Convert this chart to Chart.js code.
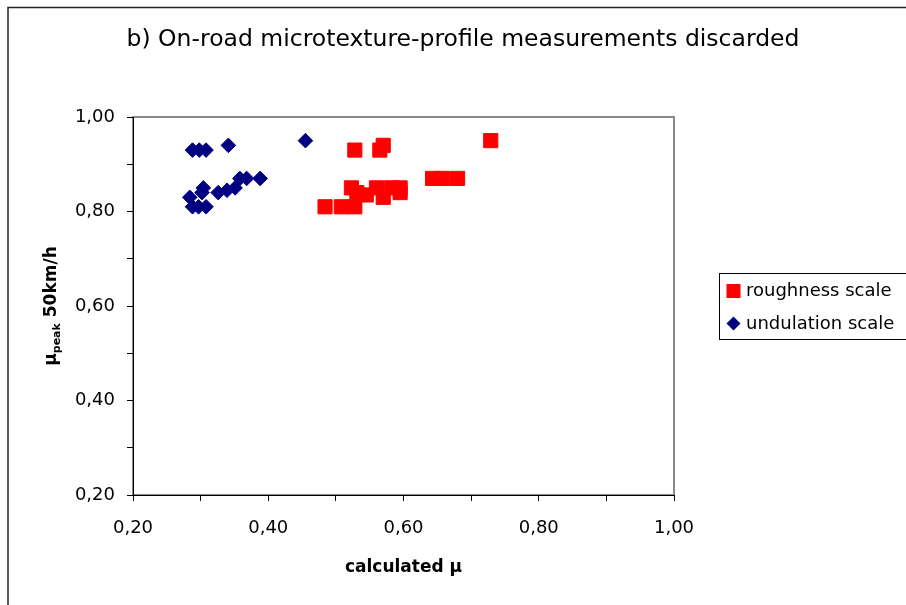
<!DOCTYPE html>
<html><head><meta charset="utf-8">
<script src="https://cdn.jsdelivr.net/npm/chart.js@4/dist/chart.umd.min.js"></script>
<style>html,body{margin:0;padding:0;background:#fff;}canvas{display:block;}</style>
</head><body>
<canvas id="c" width="906" height="605"></canvas>
<script>
const chartTitle = 'b) On-road microtexture-profile measurements discarded';
const xAxisTitle = 'calculated μ';
const yAxisTitleMain = 'μ';
const yAxisTitleSub = 'peak';
const yAxisTitleRest = ' 50km/h';
const seriesLabels = ['roughness scale', 'undulation scale'];

const roughnessX = [0.528, 0.565, 0.570, 0.729, 0.643, 0.658, 0.680, 0.484, 0.508, 0.528, 0.523, 0.531, 0.545, 0.560, 0.570, 0.582, 0.595, 0.595];
const roughnessY = [0.93, 0.93, 0.94, 0.95, 0.87, 0.87, 0.87, 0.81, 0.81, 0.81, 0.85, 0.84, 0.835, 0.85, 0.83, 0.85, 0.85, 0.84];

const undulationX = [0.288, 0.298, 0.308, 0.341, 0.455, 0.284, 0.288, 0.297, 0.308, 0.304, 0.302, 0.326, 0.339, 0.351, 0.358, 0.368, 0.388];
const undulationY = [0.93, 0.93, 0.93, 0.94, 0.95, 0.83, 0.81, 0.81, 0.81, 0.85, 0.84, 0.84, 0.845, 0.85, 0.87, 0.87, 0.87];

const xTickValues = [0.2, 0.4, 0.6, 0.8, 1.0];
const xTickLabels = ['0,20', '0,40', '0,60', '0,80', '1,00'];
const yTickValues = [0.2, 0.4, 0.6, 0.8, 1.0];
const yTickLabels = ['0,20', '0,40', '0,60', '0,80', '1,00'];

const FONT = 'DejaVu Sans';
const toPts = (xs, ys) => xs.map((x, i) => ({x: x, y: ys[i]}));
const labelFor = (vals, labels) => v => {
  const i = vals.findIndex(t => Math.abs(t - v) < 1e-6);
  return i >= 0 ? labels[i] : '';
};

const decorPlugin = {
  id: 'decor',
  beforeDraw(chart) {
    const ctx = chart.ctx, a = chart.chartArea;
    ctx.save();
    ctx.fillStyle = '#fff';
    ctx.fillRect(0, 0, chart.width, chart.height);
    ctx.strokeStyle = '#222';
    ctx.lineWidth = 1.5;
    ctx.strokeRect(8, 7.5, 1000, 1000);
    ctx.strokeStyle = '#888';
    ctx.lineWidth = 2;
    ctx.strokeRect(a.left, a.top, a.right - a.left, a.bottom - a.top);
    ctx.restore();
  },
  afterDraw(chart) {
    const ctx = chart.ctx, a = chart.chartArea;
    ctx.save();
    ctx.translate(50, (a.top + a.bottom) / 2);
    ctx.rotate(-Math.PI / 2);
    ctx.fillStyle = '#000';
    ctx.textBaseline = 'alphabetic';
    const big = 'bold 17px "' + FONT + '"', small = 'bold 11px "' + FONT + '"';
    ctx.font = big; const w1 = ctx.measureText(yAxisTitleMain).width;
    const w3 = ctx.measureText(yAxisTitleRest).width;
    ctx.font = small; const w2 = ctx.measureText(yAxisTitleSub).width;
    let x = -(w1 + w2 + w3) / 2;
    const base = 6;
    ctx.font = big; ctx.fillText(yAxisTitleMain, x, base); x += w1;
    ctx.font = small; ctx.fillText(yAxisTitleSub, x, base + 4); x += w2;
    ctx.font = big; ctx.fillText(yAxisTitleRest, x, base);
    ctx.restore();

    ctx.save();
    ctx.strokeStyle = '#000';
    ctx.lineWidth = 1;
    ctx.fillStyle = '#fff';
    ctx.fillRect(719.5, 273.5, 300, 66);
    ctx.strokeRect(719.5, 273.5, 300, 66);
    const ds = chart.data.datasets;
    ctx.font = '18px "' + FONT + '"';
    ctx.textBaseline = 'middle';
    ctx.fillStyle = ds[0].backgroundColor;
    ctx.fillRect(726.5, 284, 14, 14);
    ctx.fillStyle = '#000';
    ctx.fillText(ds[0].label, 746, 291);
    ctx.fillStyle = ds[1].backgroundColor;
    ctx.beginPath();
    ctx.moveTo(733.5, 316.5); ctx.lineTo(740.5, 323.5); ctx.lineTo(733.5, 330.5); ctx.lineTo(726.5, 323.5);
    ctx.closePath(); ctx.fill();
    ctx.fillStyle = '#000';
    ctx.fillText(ds[1].label, 746, 324);
    ctx.restore();
  }
};

new Chart(document.getElementById('c'), {
  type: 'scatter',
  data: {
    datasets: [
      { label: seriesLabels[0], data: toPts(roughnessX, roughnessY), pointStyle: 'rect', pointRadius: 10,
        backgroundColor: '#ff0000', borderColor: '#ff0000', borderWidth: 1 },
      { label: seriesLabels[1], data: toPts(undulationX, undulationY), pointStyle: 'rectRot', pointRadius: 7.3,
        backgroundColor: '#000080', borderColor: '#000080', borderWidth: 1 }
    ]
  },
  options: {
    responsive: false,
    animation: false,
    events: [],
    layout: { padding: { left: 20, top: 0, right: 0, bottom: 0 } },
    plugins: {
      legend: { display: false },
      tooltip: { enabled: false },
      title: {
        display: true, text: chartTitle, color: '#000',
        font: { family: FONT, size: 23.5, weight: 'normal', lineHeight: 1.2 },
        padding: { top: 25.9, bottom: 62.9 }
      }
    },
    scales: {
      x: {
        type: 'linear', min: 0.2, max: 1.0,
        afterFit(s) { s.height = 110; s.paddingRight = 232; },
        ticks: { stepSize: 0.1, autoSkip: false, maxRotation: 0, padding: 17, color: '#000',
          font: { family: FONT, size: 18 }, callback: labelFor(xTickValues, xTickLabels) },
        grid: { drawOnChartArea: false, drawTicks: true, tickLength: 6, color: '#000', tickWidth: 1 },
        border: { display: true, color: '#000', width: 1 },
        title: { display: true, text: xAxisTitle, color: '#000',
          font: { family: FONT, size: 17, weight: 'bold', lineHeight: 1.2 }, padding: { top: 0, bottom: 26.8 } }
      },
      y: {
        type: 'linear', min: 0.2, max: 1.0,
        afterFit(s) { s.width = 113; },
        ticks: { stepSize: 0.1, autoSkip: false, padding: 12, color: '#000',
          font: { family: FONT, size: 18 }, callback: labelFor(yTickValues, yTickLabels) },
        grid: { drawOnChartArea: false, drawTicks: true, tickLength: 6, color: '#000', tickWidth: 1 },
        border: { display: true, color: '#000', width: 1 }
      }
    }
  },
  plugins: [decorPlugin]
});
</script>
</body></html>
